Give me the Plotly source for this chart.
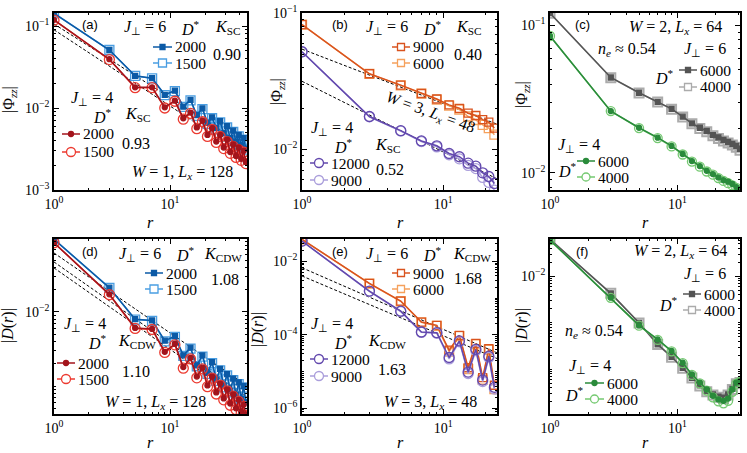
import math
import plotly.graph_objects as go

FIG_W, FIG_H = 747, 453
SERIF = "Liberation Serif"
SANS = "Liberation Sans"

# ---------------- data ----------------
# odd separations r
r_long = [1, 3, 5, 7, 9, 11, 13, 15, 17, 19, 21, 23, 25, 27, 29, 31, 33, 35, 37, 39, 41, 43, 45]
r_w3 = [1, 3, 5, 7, 9, 11, 13, 15, 17, 19, 21, 23]
r_w2 = [1, 3, 5, 7, 9, 11, 13, 15, 17, 19, 21, 23, 25, 27, 29, 31]

# (a) |Phi_zz|, W=1, Lx=128
phi_a_j6_2000 = [0.143, 0.051, 0.0247, 0.0231, 0.0145, 0.0163, 0.0104, 0.0126, 0.0082, 0.0099, 0.0066, 0.0077,
                 0.0057, 0.0069, 0.0049, 0.0060, 0.0043, 0.0053, 0.0039, 0.0047, 0.0035, 0.0043, 0.0032]
phi_a_j6_1500 = [0.143, 0.051, 0.0246, 0.0230, 0.0144, 0.0161, 0.0103, 0.0124, 0.0080, 0.0097, 0.0064, 0.0075,
                 0.0055, 0.0067, 0.0047, 0.0058, 0.0041, 0.0051, 0.0037, 0.0045, 0.0034, 0.0041, 0.0031]
phi_a_j4_2000 = [0.119, 0.0394, 0.0179, 0.0179, 0.0102, 0.0123, 0.0075, 0.0088, 0.0058, 0.0070, 0.0047, 0.0057,
                 0.0039, 0.0047, 0.0033, 0.0041, 0.0029, 0.0036, 0.0026, 0.0033, 0.0024, 0.0030, 0.0022]
phi_a_j4_1500 = [0.118, 0.0390, 0.0177, 0.0177, 0.0100, 0.0121, 0.0073, 0.0086, 0.0056, 0.0068, 0.0045, 0.0055,
                 0.0038, 0.0045, 0.0032, 0.0039, 0.0028, 0.0034, 0.0025, 0.0031, 0.0023, 0.0029, 0.0021]

# (b) |Phi_zz|, W=3, Lx=48
phi_b_j6_9000 = [0.0826, 0.0359, 0.0296, 0.0257, 0.0234, 0.0212, 0.0200, 0.0184, 0.0177, 0.0165, 0.0158, 0.0143]
phi_b_j6_6000 = [0.0826, 0.0358, 0.0295, 0.0256, 0.0232, 0.0209, 0.0196, 0.0174, 0.0164, 0.0151, 0.0143, 0.0128]
phi_b_j4_12000 = [0.0521, 0.0174, 0.0137, 0.0115, 0.0106, 0.0093, 0.0088, 0.0079, 0.0075, 0.0067, 0.0063, 0.0056]
phi_b_j4_9000 = [0.0521, 0.0173, 0.0136, 0.0114, 0.0104, 0.0091, 0.0085, 0.0076, 0.0072, 0.0062, 0.0057, 0.0050]

# (c) |Phi_zz|, W=2, Lx=64
phi_c_j6_6000 = [0.121, 0.0443, 0.0349, 0.0303, 0.0271, 0.0240, 0.0216, 0.0202, 0.0192, 0.0180, 0.0174, 0.0167,
                 0.0162, 0.0157, 0.0152, 0.0145]
phi_c_j6_4000 = [0.121, 0.0442, 0.0348, 0.0302, 0.0270, 0.0239, 0.0215, 0.0200, 0.0190, 0.0178, 0.0171, 0.0164,
                 0.0159, 0.0154, 0.0149, 0.0142]
phi_c_j4_6000 = [0.0847, 0.0262, 0.0202, 0.0173, 0.0152, 0.0134, 0.0120, 0.0111, 0.0103, 0.0098, 0.0093, 0.0089,
                 0.0087, 0.0084, 0.0080, 0.0077]
phi_c_j4_4000 = [0.0847, 0.0262, 0.0201, 0.0172, 0.0151, 0.0133, 0.0119, 0.0110, 0.0102, 0.0097, 0.0092, 0.0088,
                 0.0085, 0.0082, 0.0079, 0.0076]

# (d) |D(r)|, W=1, Lx=128
den_d_j6_2000 = [0.096, 0.0213, 0.0080, 0.0077, 0.0041, 0.0047, 0.0026, 0.0033, 0.0019, 0.0026, 0.00151, 0.0021,
                 0.00122, 0.0017, 0.00101, 0.00145, 0.00086, 0.00126, 0.00075, 0.00112, 0.00067, 0.0010, 0.0006]
den_d_j6_1500 = [0.096, 0.0212, 0.0079, 0.0076, 0.0040, 0.0046, 0.00255, 0.0032, 0.00185, 0.0025, 0.00146, 0.00203,
                 0.00117, 0.00163, 0.00096, 0.00139, 0.00082, 0.0012, 0.00071, 0.00106, 0.00063, 0.00095, 0.00057]
den_d_j4_2000 = [0.0863, 0.0173, 0.0061, 0.0059, 0.0029, 0.0037, 0.0018, 0.0024, 0.00134, 0.00177, 0.00102, 0.00134,
                 0.00082, 0.00108, 0.00068, 0.00090, 0.00058, 0.00077, 0.0005, 0.00065, 0.00045, 0.00056, 0.00041]
den_d_j4_1500 = [0.0862, 0.0171, 0.0060, 0.0058, 0.00284, 0.0036, 0.00174, 0.00232, 0.00129, 0.0017, 0.00098, 0.00128,
                 0.00078, 0.00103, 0.00065, 0.00086, 0.00055, 0.00073, 0.00048, 0.00062, 0.00043, 0.00053, 0.00039]

# (e) |D(r)|, W=3, Lx=48
den_e_j6_9000 = [0.0398, 0.00251, 0.00083, 0.000222, 0.00018, 3.8e-5, 9.6e-5, 1.26e-5, 5.8e-5, 6.8e-6, 4.2e-5, 4.2e-6]
den_e_j6_6000 = [0.0398, 0.00248, 0.00082, 0.000218, 0.000175, 3.5e-5, 9.2e-5, 1.15e-5, 5.5e-5, 6.0e-6, 3.9e-5, 3.3e-6]
den_e_j4_12000 = [0.0357, 0.00155, 0.00044, 0.000119, 0.000114, 2.4e-5, 6.8e-5, 9.6e-6, 4.0e-5, 5.8e-6, 2.6e-5, 3.7e-6]
den_e_j4_9000 = [0.0357, 0.00153, 0.00043, 0.000116, 0.00011, 2.2e-5, 6.4e-5, 8.8e-6, 3.7e-5, 5.3e-6, 2.4e-5, 3.3e-6]

# (f) |D(r)|, W=2, Lx=64
den_f_j6_6000 = [0.0625, 0.0043, 0.00100, 0.000344, 0.000186, 1.08e-4, 6.6e-5, 4.5e-5, 3.4e-5, 2.9e-5, 2.6e-5,
                 2.45e-5, 2.9e-5, 3.8e-5, 5.0e-5, 5.3e-5]
den_f_j6_4000 = [0.0625, 0.0043, 0.00099, 0.000340, 0.000183, 1.06e-4, 6.5e-5, 4.4e-5, 3.3e-5, 2.8e-5, 2.5e-5,
                 2.35e-5, 2.8e-5, 3.7e-5, 4.9e-5, 5.2e-5]
den_f_j4_6000 = [0.060, 0.00347, 0.00088, 0.00044, 0.000248, 1.39e-4, 7.8e-5, 5.2e-5, 3.7e-5, 2.7e-5, 2.26e-5,
                 2.1e-5, 2.35e-5, 3.7e-5, 5.2e-5, 5.6e-5]
den_f_j4_4000 = [0.060, 0.00345, 0.00087, 0.00043, 0.000244, 1.36e-4, 7.6e-5, 5.0e-5, 3.5e-5, 2.5e-5, 2.05e-5,
                 1.86e-5, 2.1e-5, 3.3e-5, 4.9e-5, 5.4e-5]

# power-law fits A * r^(-K)
fit_a_amp, fit_a_K = [0.106, 0.090], [0.90, 0.93]
fit_b_amp, fit_b_K = [0.0545, 0.0316], [0.40, 0.52]
fit_d_amp, fit_d_K = [0.0627, 0.0474, 0.0394], [1.08, 1.10, 1.10]
fit_e_amp, fit_e_K = [0.0067, 0.0040], [1.68, 1.63]

# colours
BLUE_D, BLUE_L = "#0b5aa6", "#4a9ee2"
RED_D, RED_L = "#a3141c", "#ec3a30"
ORA_D, ORA_L = "#d9531e", "#f5a15c"
PUR_D, PUR_L = "#6248ad", "#aa9edb"
GRY_D, GRY_L = "#545454", "#ababab"
GRN_D, GRN_L = "#2a8b3b", "#74c970"

# panel geometry (pixels) and axis ranges (log10)
cols = [(54, 247), (302, 497), (550, 740)]
rows = [(13, 190), (239, 414)]
panels = [
    dict(col=0, row=0, xr=[0, math.log10(46)], yr=[-3.0, -0.841], yt=[-1, -2, -3]),
    dict(col=1, row=0, xr=[0, math.log10(24)], yr=[-2.30, -0.998], yt=[-1, -2]),
    dict(col=2, row=0, xr=[0, math.log10(31)], yr=[-2.117, -0.916], yt=[-1, -2]),
    dict(col=0, row=1, xr=[0, math.log10(46)], yr=[-3.378, -1.014], yt=[-2]),
    dict(col=1, row=1, xr=[0, math.log10(24)], yr=[-6.16, -1.39], yt=[-2, -4, -6]),
    dict(col=2, row=1, xr=[0, math.log10(31)], yr=[-4.96, -1.198], yt=[-2, -5]),
]


def minor_vals(lo, hi):
    out = []
    for e in range(math.floor(lo) - 1, math.ceil(hi) + 1):
        for k in range(1, 10):
            v = k * 10.0 ** e
            if lo <= math.log10(v) <= hi:
                out.append(v)
    return out


def sup(e):
    return "10<sup>%s</sup>" % (str(e).replace("-", "\u2212"))


fig = go.Figure()
layout = {}
for i, p in enumerate(panels, start=1):
    sfx = "" if i == 1 else str(i)
    x0, x1 = cols[p["col"]]
    t, b = rows[p["row"]]
    common = dict(
        type="log", automargin=False,
        showline=True, linecolor="black", linewidth=1.5, mirror="allticks",
        ticks="inside", ticklen=5, tickwidth=1, tickcolor="black",
        showgrid=False, zeroline=False,
        tickfont=dict(family=SERIF, size=14, color="black"),
    )
    layout["xaxis" + sfx] = dict(
        common, domain=[x0 / FIG_W, x1 / FIG_W], range=p["xr"], anchor="y" + sfx,
        tickvals=[1, 10], ticktext=[sup(0), sup(1)],
        minor=dict(ticks="inside", ticklen=2.5, tickwidth=0.8, tickcolor="black",
                   tickvals=minor_vals(*p["xr"]), showgrid=False),
    )
    layout["yaxis" + sfx] = dict(
        common, domain=[1 - b / FIG_H, 1 - t / FIG_H], range=p["yr"], anchor="x" + sfx,
        tickvals=[10.0 ** e for e in p["yt"]], ticktext=[sup(e) for e in p["yt"]],
        minor=dict(ticks="inside", ticklen=2.5, tickwidth=0.8, tickcolor="black",
                   tickvals=minor_vals(*p["yr"]), showgrid=False),
    )


def axes(i):
    return ("x", "y") if i == 1 else ("x%d" % i, "y%d" % i)


def series(i, r, vals, color, symbol, size, lw=1.5, mlw=1.3):
    xa, ya = axes(i)
    fig.add_trace(go.Scatter(
        x=r, y=vals, xaxis=xa, yaxis=ya, mode="lines+markers",
        line=dict(color=color, width=lw),
        marker=dict(symbol=symbol, size=size, color=color, line=dict(width=mlw, color=color)),
        showlegend=False, hoverinfo="skip",
    ))


def fits(i, amps, ks, r_end):
    xa, ya = axes(i)
    for a, k in zip(amps, ks):
        fig.add_trace(go.Scatter(
            x=[1, r_end], y=[a, a * r_end ** (-k)], xaxis=xa, yaxis=ya, mode="lines",
            line=dict(color="black", width=1, dash="3px,2px"),
            showlegend=False, hoverinfo="skip",
        ))


# (a)
fits(1, fit_a_amp, fit_a_K, 46)
series(1, r_long, phi_a_j6_1500, BLUE_L, "square-open", 9)
series(1, r_long, phi_a_j6_2000, BLUE_D, "square", 5)
series(1, r_long, phi_a_j4_1500, RED_L, "circle-open", 10)
series(1, r_long, phi_a_j4_2000, RED_D, "circle", 5)
# (b)
fits(2, fit_b_amp, fit_b_K, 24)
series(2, r_w3, phi_b_j6_6000, ORA_L, "square-open", 9)
series(2, r_w3, phi_b_j6_9000, ORA_D, "square-open", 8)
series(2, r_w3, phi_b_j4_9000, PUR_L, "circle-open", 10)
series(2, r_w3, phi_b_j4_12000, PUR_D, "circle-open", 10)
# (c)
series(3, r_w2, phi_c_j6_4000, GRY_L, "square-open", 9, mlw=2)
series(3, r_w2, phi_c_j6_6000, GRY_D, "square", 5)
series(3, r_w2, phi_c_j4_4000, GRN_L, "circle-open", 9)
series(3, r_w2, phi_c_j4_6000, GRN_D, "circle", 5)
# (d)
fits(4, fit_d_amp, fit_d_K, 46)
series(4, r_long, den_d_j6_1500, BLUE_L, "square-open", 9)
series(4, r_long, den_d_j6_2000, BLUE_D, "square", 5)
series(4, r_long, den_d_j4_1500, RED_L, "circle-open", 10)
series(4, r_long, den_d_j4_2000, RED_D, "circle", 5)
# (e)
fits(5, fit_e_amp, fit_e_K, 24)
series(5, r_w3, den_e_j6_6000, ORA_L, "square-open", 9)
series(5, r_w3, den_e_j6_9000, ORA_D, "square-open", 8)
series(5, r_w3, den_e_j4_9000, PUR_L, "circle-open", 10)
series(5, r_w3, den_e_j4_12000, PUR_D, "circle-open", 10)
# (f)
series(6, r_w2, den_f_j6_4000, GRY_L, "square-open", 9, mlw=2)
series(6, r_w2, den_f_j6_6000, GRY_D, "square", 5)
series(6, r_w2, den_f_j4_4000, GRN_L, "circle-open", 9)
series(6, r_w2, den_f_j4_6000, GRN_D, "circle", 5)

# ---------------- text & legend samples ----------------
annotations = []
shapes = []


def txt(px, py, text, size=16, family=SERIF, xanchor="center", angle=0):
    annotations.append(dict(
        x=px / FIG_W, y=1 - py / FIG_H, xref="paper", yref="paper", text=text,
        showarrow=False, xanchor=xanchor, yanchor="middle", textangle=angle,
        font=dict(family=family, size=size, color="black"),
    ))


def leg(px0, px1, py, color, kind, size, filled, label):
    y = 1 - py / FIG_H
    shapes.append(dict(type="line", xref="paper", yref="paper", x0=px0 / FIG_W, x1=px1 / FIG_W,
                       y0=y, y1=y, line=dict(color=color, width=1.5)))
    cx = (px0 + px1) / 2
    shapes.append(dict(type="rect" if kind == "s" else "circle", xref="paper", yref="paper",
                       x0=(cx - size / 2) / FIG_W, x1=(cx + size / 2) / FIG_W,
                       y0=y - size / 2 / FIG_H, y1=y + size / 2 / FIG_H,
                       fillcolor=color if filled else "white", line=dict(color=color, width=1.3)))
    txt(px1 + 1, py, label, size=15.5, xanchor="left")


EQ = "\u00a0=\u00a0"
J6 = "<i>J</i><sub>\u22a5</sub>" + EQ + "6"
J4 = "<i>J</i><sub>\u22a5</sub>" + EQ + "4"
DS = "<i>D</i><sup>*</sup>"
KSC = "<i>K</i><sub>SC</sub>"
KCDW = "<i>K</i><sub>CDW</sub>"
NE = "<i>n<sub>e</sub></i>\u00a0\u2248\u00a00.54"
PHI = "|\u03a6<sub><i>zz</i></sub>|"
DR = "|<i>D</i>(<i>r</i>)|"


def wl(w, l):
    return "<i>W</i>" + EQ + str(w) + ", <i>L<sub>x</sub></i>" + EQ + str(l)


# (a)
txt(90, 25, "(a)", size=13, family=SANS)
txt(145, 28, J6); txt(190, 28, DS); txt(227, 28, KSC)
leg(153, 172, 47, BLUE_D, "s", 5, True, "2000")
leg(153, 172, 63, BLUE_L, "s", 8, False, "1500")
txt(227, 55, "0.90")
txt(92, 98, J4); txt(102, 116, DS); txt(137, 115, KSC)
leg(62, 80, 134, RED_D, "c", 5, True, "2000")
leg(62, 80, 152, RED_L, "c", 9, False, "1500")
txt(136, 143, "0.93")
txt(182, 173, wl(1, 128))
# (b)
txt(340, 25, "(b)", size=13, family=SANS)
txt(387, 28, J6); txt(432, 28, DS); txt(468, 28, KSC)
leg(392, 410, 47, ORA_D, "s", 7, False, "9000")
leg(392, 410, 63, ORA_L, "s", 7, False, "6000")
txt(468, 55, "0.40")
txt(430, 112, wl(3, 48), angle=20)
txt(332, 128, J4); txt(343, 146, DS); txt(387, 145, KSC)
leg(310, 328, 163, PUR_D, "c", 9, False, "12000")
leg(310, 328, 180, PUR_L, "c", 9, False, "9000")
txt(390, 170, "0.52")
# (c)
txt(582, 25, "(c)", size=13, family=SANS)
txt(675, 28, wl(2, 64))
txt(627, 49, NE); txt(705, 49, J6)
txt(664, 77, DS)
leg(679, 697, 70, GRY_D, "s", 5, True, "6000")
leg(679, 697, 87, GRY_L, "s", 7, False, "4000")
txt(579, 145, J4); txt(567, 170, DS)
leg(577, 595, 161, GRN_D, "c", 5, True, "6000")
leg(577, 595, 177, GRN_L, "c", 8, False, "4000")
# (d)
txt(90, 251, "(d)", size=13, family=SANS)
txt(140, 254, J6); txt(185, 254, DS); txt(223, 254, KCDW)
leg(145, 163, 273, BLUE_D, "s", 5, True, "2000")
leg(145, 163, 289, BLUE_L, "s", 8, False, "1500")
txt(225, 279, "1.08")
txt(85, 324, J4); txt(97, 342, DS); txt(137, 341, KCDW)
leg(57, 75, 363, RED_D, "c", 5, True, "2000")
leg(57, 75, 379, RED_L, "c", 9, False, "1500")
txt(136, 371, "1.10")
txt(155, 402, wl(1, 128))
# (e)
txt(340, 251, "(e)", size=13, family=SANS)
txt(387, 254, J6); txt(432, 254, DS); txt(472, 254, KCDW)
leg(392, 410, 273, ORA_D, "s", 7, False, "9000")
leg(392, 410, 289, ORA_L, "s", 7, False, "6000")
txt(468, 278, "1.68")
txt(332, 324, J4); txt(343, 342, DS); txt(387, 341, KCDW)
leg(310, 328, 359, PUR_D, "c", 9, False, "12000")
leg(310, 328, 376, PUR_L, "c", 9, False, "9000")
txt(392, 369, "1.63")
txt(430, 402, wl(3, 48))
# (f)
txt(582, 251, "(f)", size=13, family=SANS)
txt(680, 251, wl(2, 64))
txt(705, 274, J6); txt(668, 304, DS)
leg(683, 701, 294, GRY_D, "s", 5, True, "6000")
leg(683, 701, 310, GRY_L, "s", 7, False, "4000")
txt(594, 331, NE)
txt(590, 366, J4); txt(574, 394, DS)
leg(585, 604, 383, GRN_D, "c", 5, True, "6000")
leg(585, 604, 399, GRN_L, "c", 8, False, "4000")

# axis titles
for cx in (150, 400, 645):
    txt(cx, 222, "<i>r</i>")
    txt(cx, 442, "<i>r</i>")
txt(9, 100, PHI, angle=-90); txt(277, 92, PHI, angle=-90); txt(523, 95, PHI, angle=-90)
txt(8, 326, DR, angle=-90); txt(258, 330, DR, angle=-90); txt(522, 326, DR, angle=-90)

fig.update_layout(
    **layout,
    template="none",
    annotations=annotations,
    shapes=shapes,
    width=FIG_W, height=FIG_H,
    margin=dict(l=0, r=0, t=0, b=0),
    paper_bgcolor="white", plot_bgcolor="white",
    showlegend=False,
    font=dict(family=SERIF, color="black"),
)

# the page body has a default 8px margin; drop it so the figure fills the window
fig.write_html("out.html", config={"displayModeBar": False},
               post_script="document.body.style.margin='0';")
